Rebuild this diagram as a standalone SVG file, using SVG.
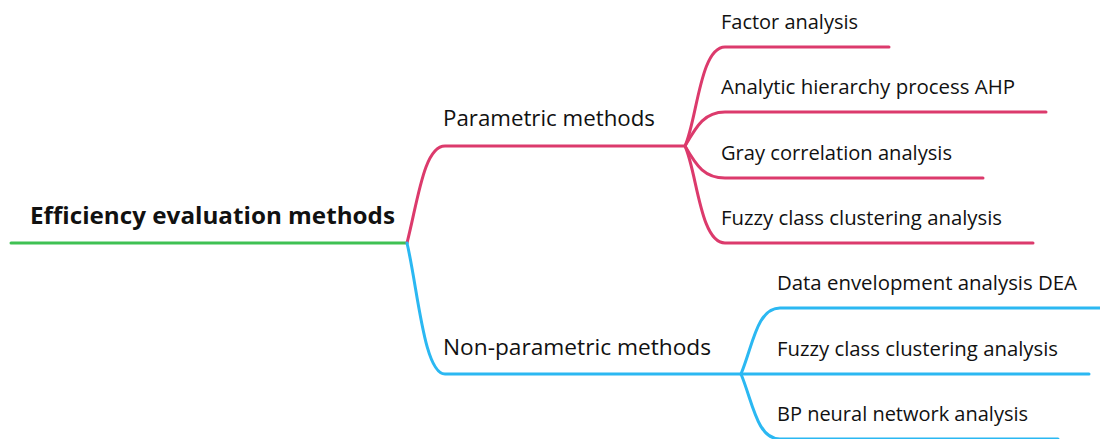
<svg xmlns="http://www.w3.org/2000/svg" width="1100" height="439" viewBox="0 0 1100 439">
<style>
text{font-family:"Open Sans","Noto Sans",sans-serif;fill:#111;}
.root{font-size:23.5px;font-weight:bold;}
.l1{font-size:21px;}
.l2{font-size:19.5px;}
.pk{fill:none;stroke:#dc3a6c;stroke-width:3;stroke-linecap:round;}
.bl{fill:none;stroke:#2bb8f2;stroke-width:3;stroke-linecap:round;}
.gr{fill:none;stroke:#3fc153;stroke-width:3;stroke-linecap:round;}
</style>
<g id="connectors">
<path class="gr" d="M11,243 H407"/>
<path class="pk" d="M407,243 C418,200 424,146 445,146 H685"/>
<path class="bl" d="M407,243 C418,290 424,374 445,374 H741"/>
<path class="pk" d="M685,146 C697,120 700,47 725,47 H889"/>
<path class="pk" d="M685,146 C697,125 705,112 725,112 H1046"/>
<path class="pk" d="M685,146 C697,167 705,178 725,178 H983"/>
<path class="pk" d="M685,146 C697,172 700,243 725,243 H1033"/>
<path class="bl" d="M741,374 C753,345 757,308 780,308 H1100"/>
<path class="bl" d="M741,374 H1089"/>
<path class="bl" d="M741,374 C753,403 757,439 780,439 H1058"/>
</g>
<g id="root"><text class="root" x="30" y="224" textLength="365" lengthAdjust="spacingAndGlyphs">Efficiency evaluation methods</text></g>
<g id="parametric"><text class="l1" x="443" y="126" textLength="212" lengthAdjust="spacingAndGlyphs">Parametric methods</text></g>
<g id="nonparametric"><text class="l1" x="443" y="355" textLength="268" lengthAdjust="spacingAndGlyphs">Non-parametric methods</text></g>
<g id="p1"><text class="l2" x="721" y="29" textLength="137" lengthAdjust="spacingAndGlyphs">Factor analysis</text></g>
<g id="p2"><text class="l2" x="721" y="94" textLength="294" lengthAdjust="spacingAndGlyphs">Analytic hierarchy process AHP</text></g>
<g id="p3"><text class="l2" x="721" y="160" textLength="231" lengthAdjust="spacingAndGlyphs">Gray correlation analysis</text></g>
<g id="p4"><text class="l2" x="721" y="225" textLength="281" lengthAdjust="spacingAndGlyphs">Fuzzy class clustering analysis</text></g>
<g id="n1"><text class="l2" x="777" y="290" textLength="300" lengthAdjust="spacingAndGlyphs">Data envelopment analysis DEA</text></g>
<g id="n2"><text class="l2" x="777" y="356" textLength="281" lengthAdjust="spacingAndGlyphs">Fuzzy class clustering analysis</text></g>
<g id="n3"><text class="l2" x="777" y="421" textLength="251" lengthAdjust="spacingAndGlyphs">BP neural network analysis</text></g>
</svg>
